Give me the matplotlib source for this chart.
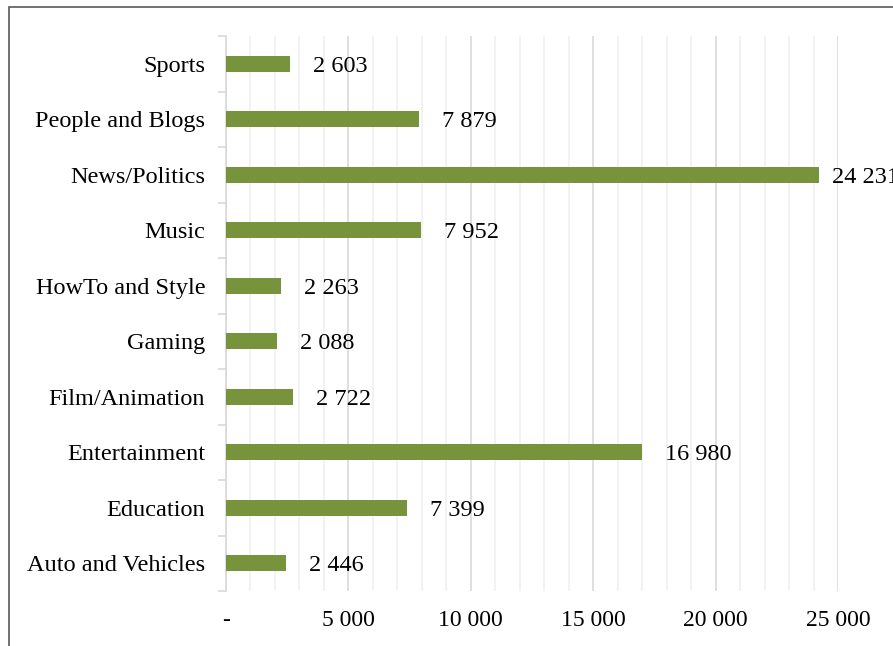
import matplotlib
matplotlib.use('Agg')
import matplotlib.pyplot as plt
from matplotlib.patches import Rectangle
from matplotlib.ticker import MultipleLocator, FuncFormatter

categories = ['Auto and Vehicles', 'Education', 'Entertainment', 'Film/Animation', 'Gaming',
              'HowTo and Style', 'Music', 'News/Politics', 'People and Blogs', 'Sports']
videos = [2446, 7399, 16980, 2722, 2088, 2263, 7952, 24231, 7879, 2603]

plt.rcParams['font.family'] = ['Liberation Serif', 'DejaVu Serif']

def spaced(v):
    if v == 0:
        return '-'
    return f'{int(v):,}'.replace(',', ' ')

fig = plt.figure(figsize=(8.93, 6.46), dpi=100)
ax = fig.add_axes([226 / 893, 1 - 591 / 646, (838 - 226) / 893, (591 - 36) / 646])

y = range(len(categories))
ax.barh(y, videos, height=0.29, color='#77933C', zorder=3)
for yi, v in zip(y, videos):
    # the longest bar's label is pulled in closer so it fits
    off = 9 if v == max(videos) else 16.5
    ax.annotate(spaced(v), (v, yi), xytext=(off, 0), textcoords='offset points',
                va='center_baseline', ha='left', fontsize=17.5,
                annotation_clip=False, clip_on=False)

ax.set_xlim(0, 25000)
ax.set_ylim(-0.5, len(categories) - 0.5)
ax.xaxis.set_major_locator(MultipleLocator(5000))
ax.xaxis.set_minor_locator(MultipleLocator(1000))
ax.xaxis.set_major_formatter(FuncFormatter(lambda v, p: spaced(v)))
ax.grid(axis='x', which='major', color='#d9d9d9', linewidth=1.2, zorder=0)
ax.grid(axis='x', which='minor', color='#f0f0f0', linewidth=1.2, zorder=0)
ax.tick_params(axis='x', which='both', length=0, labelsize=17, pad=14)

ax.set_yticks(list(y))
ax.set_yticklabels(categories)
ax.set_yticks([i + 0.5 for i in range(-1, len(categories))], minor=True)
ax.tick_params(axis='y', which='major', length=0, labelsize=17.5, pad=15)
ax.tick_params(axis='y', which='minor', length=6, color='#d9d9d9', width=1.2)

for s in ['top', 'right', 'bottom']:
    ax.spines[s].set_visible(False)
ax.spines['left'].set_color('#d9d9d9')
ax.spines['left'].set_linewidth(1.2)

# outer chart frame, running off the right and bottom edges
fig.patches.append(Rectangle((9 / 893, -0.1), 1.2, 1 - 7 / 646 + 0.1,
                             transform=fig.transFigure, fill=False,
                             edgecolor='#595959', linewidth=1.2))

fig.savefig('out.png', dpi=100)
